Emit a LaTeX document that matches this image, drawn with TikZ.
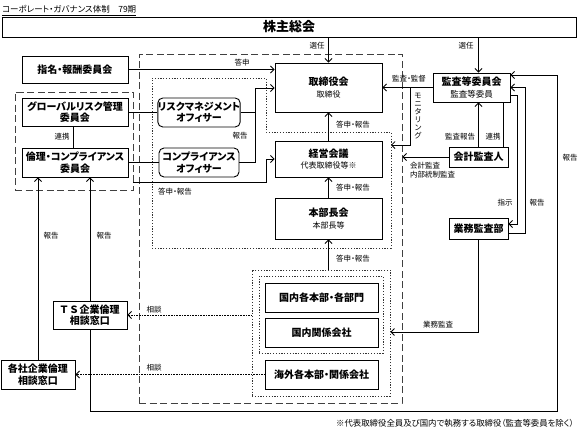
\documentclass[tikz,border=0pt]{standalone}
\usepackage{fontspec}
\setmainfont{Noto Sans CJK JP}[RawFeature=+palt]
\usetikzlibrary{arrows.meta}
\begin{document}
\begin{tikzpicture}[x=1pt,y=-1pt,
  box/.style={draw, line width=0.9pt, inner sep=0pt, align=center, fill=white, font=\bfseries\fontsize{10}{11.5}\selectfont},
  rbox/.style={box, rounded corners=5pt},
  lbl/.style={inner sep=0pt, font=\fontsize{7.5}{8.5}\selectfont},
  arr/.style={line width=0.8pt, -{Straight Barb[length=3.5pt,width=7pt]}},
  ln/.style={line width=0.8pt},
  consult/.style={dash pattern=on 0.8pt off 0.8pt},
  bigdash/.style={draw, line width=0.9pt, dash pattern=on 7pt off 3.5pt, black!75, inner sep=0pt},
  dotline/.style={line width=0.8pt, dash pattern=on 1.2pt off 1.6pt, black!80},
  dotbox/.style={draw, dotline, inner sep=0pt},
]
\useasboundingbox (0,0) rectangle (582,429);

% title
\node[lbl, anchor=base west, font=\fontsize{8.5}{10}\selectfont] (title) at (2,12.5) {コーポレート・ガバナンス体制　79期};
\draw[line width=0.6pt] (title.west |- 0,15.5) -- (title.east |- 0,15.5);

% groups
\node[bigdash, minimum width=263pt, minimum height=349pt] (big) at (270.5,228.5) {};
\node[bigdash, minimum width=118pt, minimum height=98pt] (grp1) at (74,141) {};
\draw[dotline] (152,78) -- (266,78) -- (266,132) -- (391,132) -- (391,248) -- (152,248) -- cycle;
\coordinate (polyE) at (391,145);
\node[dotbox, minimum width=138pt, minimum height=126pt] (grp2) at (321,333) {};
\node[dotbox, minimum width=124pt, minimum height=77pt] (grp3) at (321,314.5) {};

% boxes
\node[box, minimum width=574pt, minimum height=20pt, font=\bfseries\fontsize{13}{14}\selectfont] (kabu) at (289,27) {株主総会};
\node[box, minimum width=106pt, minimum height=27pt] (shimei) at (75,69.5) {指名・報酬委員会};
\node[box, minimum width=106pt, minimum height=28pt] (global) at (75,112) {グローバルリスク管理\\委員会};
\node[box, minimum width=106pt, minimum height=29pt] (rinri) at (75,162.5) {倫理・コンプライアンス\\委員会};
\node[rbox, minimum width=80pt, minimum height=29pt] (riskoff) at (199,112.5) {リスクマネジメント\\オフィサー};
\node[rbox, minimum width=80pt, minimum height=29pt] (compoff) at (199,162.5) {コンプライアンス\\オフィサー};
\node[box, minimum width=107pt, minimum height=49pt] (tori) at (328.5,87.5) {取締役会\\{\mdseries\fontsize{8}{10}\selectfont 取締役}};
\node[box, minimum width=107pt, minimum height=36pt] (keiei) at (328.5,159) {経営会議\\{\mdseries\fontsize{8}{10}\selectfont 代表取締役等※}};
\node[box, minimum width=107pt, minimum height=41pt] (honbu) at (328.5,218.5) {本部長会\\{\mdseries\fontsize{8}{10}\selectfont 本部長等}};
\node[box, minimum width=113pt, minimum height=29pt] (kok1) at (321.5,297.5) {国内各本部・各部門};
\node[box, minimum width=113pt, minimum height=29pt] (kok2) at (321.5,332.5) {国内関係会社};
\node[box, minimum width=113pt, minimum height=29pt] (kaigai) at (321.5,374.5) {海外各本部・関係会社};
\node[box, minimum width=74pt, minimum height=28pt] (ts) at (90,315) {Ｔ\kern2.5ptＳ\kern1.5pt企業倫理\\相談窓口};
\node[box, minimum width=74pt, minimum height=29pt] (kakusha) at (38,374.5) {各社企業倫理\\相談窓口};
\node[box, minimum width=77pt, minimum height=29pt] (kansa) at (471.5,87.5) {監査等委員会\\{\mdseries\fontsize{8.5}{10}\selectfont 監査等委員}};
\node[box, minimum width=59pt, minimum height=20pt] (kaikei) at (478.5,157) {会計監査人};
\node[box, minimum width=59pt, minimum height=21pt] (gyomu) at (478.5,228.5) {業務監査部};

% coordinates
\coordinate (j1) at (255,88);
\coordinate (e1) at (133,182);
\coordinate (e2) at (266,159);
\coordinate (mon1) at (410,145);
\coordinate (r503) at (503,0);
\coordinate (c73) at (73,0);
\coordinate (s1) at (517,95);
\coordinate (s2) at (517,224);
\coordinate (t1) at (525,233);
\coordinate (t2) at (525,87.5);
\coordinate (o1) at (90,411);
\coordinate (o2) at (557,411);
\coordinate (o3) at (557,75);
\coordinate (g1) at (0,332);

% connectors
\draw[arr] (kabu.south -| tori.north) -- (tori.north);
\draw[arr] (kabu.south -| kaikei.north) -- (kansa.north -| kaikei.north);
\draw[arr] (shimei.east) -- (shimei.east -| tori.west);
\draw[ln] (global.east) -- (global.east -| riskoff.west);
\draw[ln] (rinri.east) -- (compoff.west);
\draw[ln] (riskoff.east) -- (riskoff.east -| j1);
\draw[arr] (compoff.east) -| (j1) -- (j1 -| tori.west);
\draw[arr] (e1) -| (e2) -- (keiei.west);
\draw[arr] (keiei.north) -- (tori.south);
\draw[arr] (honbu.north) -- (keiei.south);
\draw[arr] (honbu.south |- grp2.north) -- (honbu.south);
\draw[arr] (kansa.west) -- (kansa.west -| tori.east);
\draw[arr] (kansa.west -| mon1) -- (mon1) -- (polyE);
\draw[arr] (kaikei.west) -- (kaikei.west -| big.east);
\draw[arr] (kaikei.north) -- (kaikei.north |- kansa.south);
\draw[ln] (kansa.south -| r503) -- (kaikei.north -| r503);
\draw[arr] (s1 -| kansa.east) -- (s1) -- (s2) -- (s2 -| gyomu.east);
\draw[arr] (t1 -| gyomu.east) -- (t1) -- (t2) -- (t2 -| kansa.east);
\draw[arr] (ts.south) -- (o1) -- (o2) -- (o3) -- (o3 -| kansa.east);
\draw[arr] (ts.north) -- (ts.north |- rinri.south);
\draw[arr] (kakusha.north) -- (kakusha.north |- rinri.south);
\draw[arr, consult] (grp2.west |- ts.east) -- (ts.east);
\draw[arr, consult] (kaigai.west) -- (kakusha.east);
\draw[arr] (gyomu.south) |- (grp2.east |- g1);
\draw[ln] (global.south -| c73) -- (rinri.north -| c73);

% labels
\node[lbl] (l1) at (317,46) {選任};
\node[lbl] (l2) at (466,46) {選任};
\node[lbl] (l3) at (242,63) {答申};
\node[lbl] (l4) at (240,136) {報告};
\node[lbl] (l5) at (353,125) {答申・報告};
\node[lbl] (l6) at (353,188) {答申・報告};
\node[lbl] (l7) at (353,259) {答申・報告};
\node[lbl] (l8) at (175,192) {答申・報告};
\node[lbl] (l9) at (62,137) {連携};
\node[lbl] (l10) at (409,79) {監査・監督};
\node[lbl, align=center, font=\fontsize{7.5}{8}\selectfont] (mon) at (418,116) {モ\\ニ\\タ\\リ\\ン\\グ};
\node[lbl, anchor=north west, align=left] (l11) at (410,162) {会計監査\\内部統制監査};
\node[lbl] (l12) at (460,137) {監査報告};
\node[lbl] (l13) at (493,137) {連携};
\node[lbl] (l14) at (505,203) {指示};
\node[lbl] (l15) at (537,203) {報告};
\node[lbl] (l16) at (570,158) {報告};
\node[lbl] (l17) at (438,325) {業務監査};
\node[lbl] (l18) at (154,310) {相談};
\node[lbl] (l19) at (154,368) {相談};
\node[lbl] (l20) at (51,236) {報告};
\node[lbl] (l21) at (104,236) {報告};
\node[lbl, font=\fontsize{8.4}{9.5}\selectfont] (foot) at (455,423) {※代表取締役全員及び国内で執務する取締役（監査等委員を除く）};
\end{tikzpicture}
\end{document}
